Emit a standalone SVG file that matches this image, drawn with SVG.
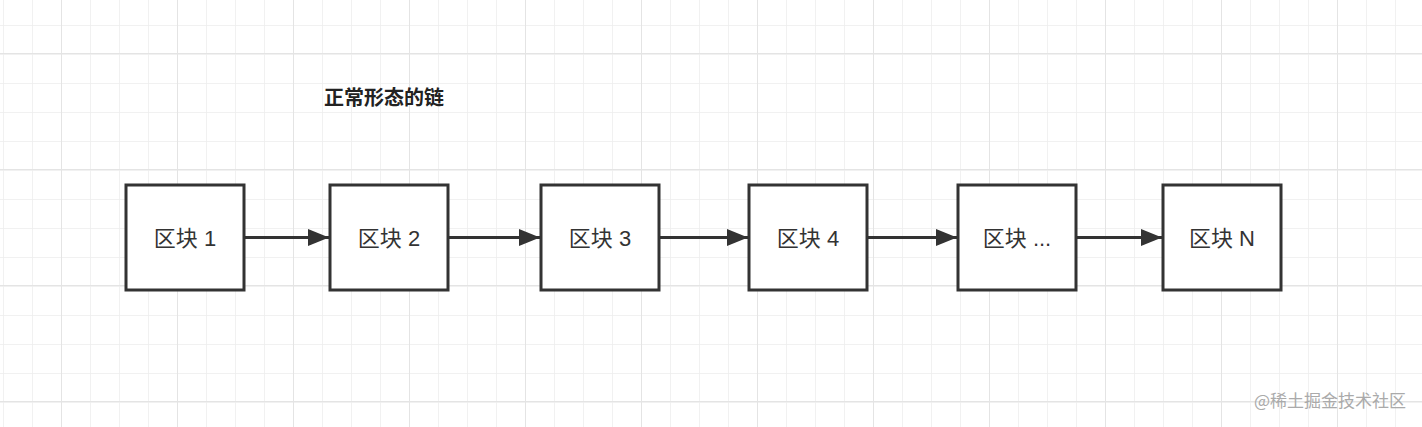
<svg xmlns="http://www.w3.org/2000/svg" width="1422" height="427" viewBox="0 0 1422 427">
<defs>
<pattern id="minor" x="3" y="-4" width="29" height="29" patternUnits="userSpaceOnUse"><path d="M0 0V29M0 0H29" fill="none" stroke="#ededed" stroke-width="1.5"/></pattern>
<pattern id="major" x="61" y="53" width="116" height="116" patternUnits="userSpaceOnUse"><path d="M0 0V116M0 0H116" fill="none" stroke="#e4e4e4" stroke-width="2"/></pattern>
<marker id="ah" viewBox="0 0 10 10" refX="10" refY="5" markerWidth="7" markerHeight="7" markerUnits="strokeWidth" orient="auto"><path d="M0 1L10 5L0 9z" fill="#333"/></marker>
<style>
.n rect{fill:#fff;stroke:#333;stroke-width:3}
.n text{font-family:"Liberation Sans","Noto Sans CJK SC",sans-serif;font-size:22px;fill:#333;text-anchor:middle;dominant-baseline:central}
#edges path{stroke:#333;stroke-width:3;fill:none;marker-end:url(#ah)}
</style>
</defs>
<rect width="1422" height="427" fill="#fff"/>
<rect width="1422" height="427" fill="url(#minor)"/>
<rect width="1422" height="427" fill="url(#major)"/>
<text x="324" y="105" font-family="'Noto Sans CJK SC',sans-serif" font-weight="bold" font-size="20" fill="#222">正常形态的链</text>
<g id="edges">
<path d="M244 237.5H329"/><path d="M448 237.5H540"/><path d="M659 237.5H748"/><path d="M867 237.5H957"/><path d="M1076 237.5H1162"/>
</g>
<g id="n1" class="n"><rect x="126" y="185" width="118" height="105"/><text x="185" y="238">区块 1</text></g>
<g id="n2" class="n"><rect x="330" y="185" width="118" height="105"/><text x="389" y="238">区块 2</text></g>
<g id="n3" class="n"><rect x="541" y="185" width="118" height="105"/><text x="600" y="238">区块 3</text></g>
<g id="n4" class="n"><rect x="749" y="185" width="118" height="105"/><text x="808" y="238">区块 4</text></g>
<g id="n5" class="n"><rect x="958" y="185" width="118" height="105"/><text x="1017" y="238">区块 ...</text></g>
<g id="n6" class="n"><rect x="1163" y="185" width="118" height="105"/><text x="1222" y="238">区块 N</text></g>
<text x="1406" y="407" text-anchor="end" font-family="'Noto Sans CJK SC',sans-serif" font-size="17" fill="#aaa">@稀土掘金技术社区</text>
</svg>
